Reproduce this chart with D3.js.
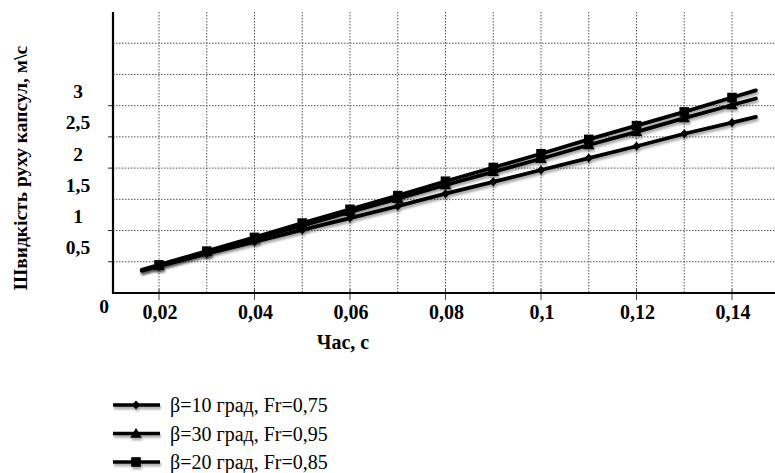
<!DOCTYPE html>
<html><head><meta charset="utf-8">
<script src="https://cdn.jsdelivr.net/npm/d3@7"></script>
<style>body{margin:0;background:#fff;}svg{display:block;}</style>
</head><body>
<svg id="c" width="775" height="473"></svg>
<script>
// ---- data ----
const times   = [0.02,0.03,0.04,0.05,0.06,0.07,0.08,0.09,0.10,0.11,0.12,0.13,0.14];
const beta10  = [0.18,0.38,0.57,0.76,0.95,1.14,1.34,1.53,1.72,1.91,2.10,2.30,2.48];
const beta30  = [0.19,0.41,0.62,0.83,1.05,1.26,1.48,1.69,1.90,2.12,2.33,2.55,2.76];
const beta20  = [0.20,0.42,0.64,0.87,1.09,1.31,1.54,1.76,1.98,2.21,2.43,2.65,2.88];
const seriesNames = ["β=10 град, Fr=0,75","β=30 град, Fr=0,95","β=20 град, Fr=0,85"];
const xTickVals   = [0.02,0.04,0.06,0.08,0.10,0.12,0.14];
const xTickLabels = ["0,02","0,04","0,06","0,08","0,1","0,12","0,14"];
const xGridVals   = [0.02,0.03,0.04,0.05,0.06,0.07,0.08,0.09,0.10,0.11,0.12,0.13,0.14];
const yTickVals   = [0.5,1,1.5,2,2.5,3];
const yTickLabels = ["0,5","1","1,5","2","2,5","3"];
const yGridVals   = [0.25,0.75,1.25,1.75,2.25,2.75,3.25,3.75];
const yTickMarks  = [0.25,0.75,1.75,2.25,2.75];
const lineStart = 0.0164, lineEnd = 0.145;
const xTitle = "Час, с";
const yTitle = "Швидкість руху капсул, м\\с";

// ---- layout ----
const svg = d3.select("#c");
const L = 113, R = 775, T = 12, B = 293;
const x = d3.scaleLinear().domain([0.02,0.14]).range([159,732]);
const y = d3.scaleLinear().domain([-0.25,4.25]).range([B,T]);
const serif = "'Liberation Serif','Times New Roman',serif";

const defs = svg.append("defs");
const f = defs.append("filter").attr("id","sh").attr("x","-5%").attr("y","-20%").attr("width","110%").attr("height","160%");
f.append("feDropShadow").attr("dx",1).attr("dy",2.5).attr("stdDeviation",1.2).attr("flood-color","#000").attr("flood-opacity",0.35);

// grid
svg.append("g").selectAll("line").data(xGridVals).join("line")
  .attr("x1",d=>x(d)).attr("x2",d=>x(d)).attr("y1",T).attr("y2",B)
  .attr("stroke","#555").attr("stroke-width",1).attr("stroke-dasharray","1.5,1.5");
svg.append("g").selectAll("line").data(yGridVals).join("line")
  .attr("x1",L).attr("x2",R).attr("y1",d=>y(d)).attr("y2",d=>y(d))
  .attr("stroke","#555").attr("stroke-width",1).attr("stroke-dasharray","1.5,1.5");

// tick marks
svg.append("g").selectAll("line").data(yTickMarks).join("line")
  .attr("x1",L-5).attr("x2",L).attr("y1",d=>y(d)).attr("y2",d=>y(d))
  .attr("stroke","#222").attr("stroke-width",1);
svg.append("g").selectAll("line").data(xTickVals).join("line")
  .attr("x1",d=>x(d)).attr("x2",d=>x(d)).attr("y1",B-4).attr("y2",B+7)
  .attr("stroke","#444").attr("stroke-width",1);

// axes
svg.append("line").attr("x1",L).attr("x2",L).attr("y1",T).attr("y2",B+1).attr("stroke","#000").attr("stroke-width",2.2);
svg.append("line").attr("x1",L-1).attr("x2",R).attr("y1",B).attr("y2",B).attr("stroke","#000").attr("stroke-width",2.2);

// tick labels
svg.append("g").selectAll("text").data(xTickVals).join("text")
  .attr("x",d=>x(d)+1).attr("y",319).attr("text-anchor","middle")
  .attr("font-family",serif).attr("font-weight","bold").attr("font-size",20)
  .text((d,i)=>xTickLabels[i]);
svg.append("g").selectAll("text").data(yTickVals).join("text")
  .attr("x",78).attr("y",d=>y(d)+8).attr("text-anchor","middle")
  .attr("font-family",serif).attr("font-weight","bold").attr("font-size",19.5)
  .text((d,i)=>yTickLabels[i]);
svg.append("text").attr("x",104).attr("y",313).attr("text-anchor","middle")
  .attr("font-family",serif).attr("font-weight","bold").attr("font-size",19.5).text("0");

// titles
svg.append("text").attr("x",343).attr("y",349).attr("text-anchor","middle")
  .attr("font-family",serif).attr("font-weight","bold").attr("font-size",20).text(xTitle);
svg.append("text").attr("transform","translate(27,168) rotate(-90)").attr("text-anchor","middle")
  .attr("font-family",serif).attr("font-weight","bold").attr("font-size",19.5).text(yTitle);

// markers
function markerPath(type){
  if(type==="diamond") return "M0,-4.5L4.2,0L0,4.5L-4.2,0Z";
  if(type==="triangle") return "M0,-5.5L5.8,4.2L-5.8,4.2Z";
  return "M-4.8,-4.8H4.8V4.8H-4.8Z";
}
const series = [
  {name:seriesNames[0], vals:beta10, m:"diamond"},
  {name:seriesNames[1], vals:beta30, m:"triangle"},
  {name:seriesNames[2], vals:beta20, m:"square"}
];
const line = d3.line().x(d=>x(d[0])).y(d=>y(d[1]));
series.forEach(s=>{
  const pts = times.map((t,i)=>[t,s.vals[i]]);
  const n = pts.length;
  const s0 = (pts[1][1]-pts[0][1])/(pts[1][0]-pts[0][0]);
  const s1 = (pts[n-1][1]-pts[n-2][1])/(pts[n-1][0]-pts[n-2][0]);
  const full = [[lineStart, pts[0][1]+s0*(lineStart-pts[0][0])], ...pts,
                [lineEnd, pts[n-1][1]+s1*(lineEnd-pts[n-1][0])]];
  const g = svg.append("g").attr("filter","url(#sh)");
  g.append("path").attr("d",line(full)).attr("fill","none").attr("stroke","#000")
    .attr("stroke-width",3.8).attr("stroke-linecap","round").attr("stroke-linejoin","round");
  g.selectAll("path.m").data(pts).join("path").attr("class","m")
    .attr("transform",d=>`translate(${x(d[0])},${y(d[1])})`).attr("d",markerPath(s.m)).attr("fill","#000");
});

// legend
const lg = svg.append("g");
series.forEach((s,i)=>{
  const yy = 405 + i*28.5;
  const g = lg.append("g").attr("filter","url(#sh)");
  g.append("line").attr("x1",113).attr("x2",160).attr("y1",yy).attr("y2",yy).attr("stroke","#000").attr("stroke-width",3.5);
  g.append("path").attr("transform",`translate(136,${yy})`).attr("d",markerPath(s.m)).attr("fill","#000");
  lg.append("text").attr("x",170).attr("y",yy+7).attr("font-family",serif).attr("font-size",20).text(s.name);
});
</script>
</body></html>
